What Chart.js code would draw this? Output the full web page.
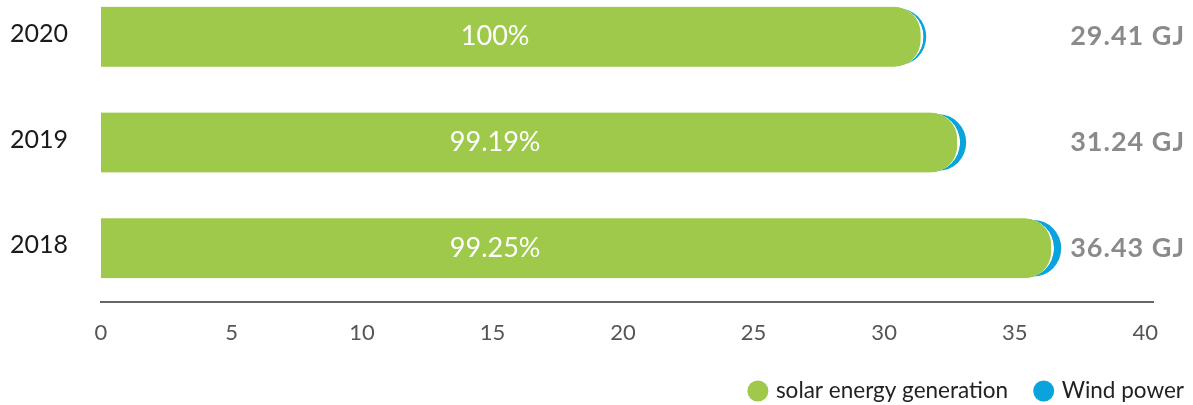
<!DOCTYPE html>
<html>
<head>
<meta charset="utf-8">
<script src="https://cdn.jsdelivr.net/npm/chart.js@4"></script>
<style>
  html, body { margin: 0; padding: 0; background: #fff; }
  #wrap { width: 1193px; height: 405px; position: relative; }
</style>
</head>
<body>
<div id="wrap"><canvas id="energyChart"></canvas></div>
<script>
const years = ["2020", "2019", "2018"];
const solar = [31.5, 32.9, 36.5];
const wind = [0.1, 0.23, 0.27];
const shares = ["100%", "99.19%", "99.25%"];
const totals = ["29.41 GJ", "31.24 GJ", "36.43 GJ"];
const xTicks = [0, 5, 10, 15, 20, 25, 30, 35, 40];
const seriesNames = ["solar energy generation", "Wind power"];

const GREEN = "#9fc94b";
const BLUE = "#0aa3db";
const FONT = "Lato, 'Noto Sans', sans-serif";

Chart.defaults.font.family = FONT;

const labelPlugin = {
  id: "labels",
  afterDatasetsDraw(chart) {
    const { ctx, scales: { x, y } } = chart;
    ctx.save();
    ctx.textBaseline = "middle";
    years.forEach((yr, i) => {
      const py = y.getPixelForValue(i);
      ctx.letterSpacing = "0px";
      // year on the left
      ctx.fillStyle = "#1a1a1a";
      ctx.textAlign = "right";
      ctx.font = "25px " + FONT;
      ctx.fillText(yr, 68, py - 3);
      // share inside the bar
      ctx.fillStyle = "#fff";
      ctx.textAlign = "center";
      ctx.font = "27px " + FONT;
      ctx.fillText(shares[i], x.getPixelForValue(15.1), py);
      // total on the right
      ctx.fillStyle = "#8a8a8a";
      ctx.textAlign = "right";
      ctx.font = "bold 27px " + FONT;
      ctx.letterSpacing = "1px";
      ctx.fillText(totals[i], chart.width - 8, py);
    });

    // legend, laid out from the right edge
    ctx.letterSpacing = "0px";
    ctx.font = "22.5px " + FONT;
    ctx.textAlign = "left";
    const ly = 391;
    let right = chart.width - 9;
    const colors = [GREEN, BLUE];
    for (let i = seriesNames.length - 1; i >= 0; i--) {
      const w = ctx.measureText(seriesNames[i]).width;
      const tx = right - w;
      ctx.fillStyle = "#222";
      ctx.fillText(seriesNames[i], tx, ly);
      ctx.beginPath();
      ctx.arc(tx - 18, ly, 10.5, 0, Math.PI * 2);
      ctx.fillStyle = colors[i];
      ctx.fill();
      right = tx - 18 - 10.5 - 25;
    }
    ctx.restore();
  }
};

new Chart(document.getElementById("energyChart"), {
  type: "bar",
  data: {
    datasets: [
      {
        label: seriesNames[0],
        data: solar.map((v, i) => ({ x: v, y: i })),
        backgroundColor: GREEN,
        borderColor: "#fff",
        borderWidth: { top: 0, bottom: 0, left: 0, right: 3 },
        borderSkipped: "start",
        borderRadius: 30,
        barThickness: 60,
        grouped: false,
        order: 0
      },
      {
        label: seriesNames[1],
        data: solar.map((v, i) => ({ x: v + wind[i], y: i })),
        backgroundColor: BLUE,
        borderWidth: 0,
        borderSkipped: "start",
        borderRadius: 28,
        barThickness: 56,
        grouped: false,
        order: 1
      }
    ]
  },
  options: {
    indexAxis: "y",
    responsive: true,
    maintainAspectRatio: false,
    animation: false,
    layout: { padding: { top: 0, right: 40, bottom: 0, left: 0 } },
    plugins: {
      legend: { display: false },
      tooltip: { enabled: false }
    },
    scales: {
      x: {
        type: "linear",
        min: 0,
        max: 40.3,
        afterBuildTicks: s => { s.ticks = xTicks.map(v => ({ value: v })); },
        afterFit: s => { s.height = 103; },
        grid: { display: false, drawTicks: false },
        border: { display: true, color: "#666", width: 2 },
        ticks: {
          color: "#555",
          padding: 18,
          font: { size: 22 }
        }
      },
      y: {
        type: "linear",
        reverse: true,
        offset: false,
        min: -0.3475,
        max: 2.508,
        afterBuildTicks: s => { s.ticks = years.map((_, i) => ({ value: i })); },
        afterFit: s => { s.width = 101; s.paddingTop = 0; s.paddingBottom = 0; },
        grid: { display: false, drawTicks: false },
        border: { display: false },
        ticks: { display: false }
      }
    }
  },
  plugins: [labelPlugin]
});
</script>
</body>
</html>
